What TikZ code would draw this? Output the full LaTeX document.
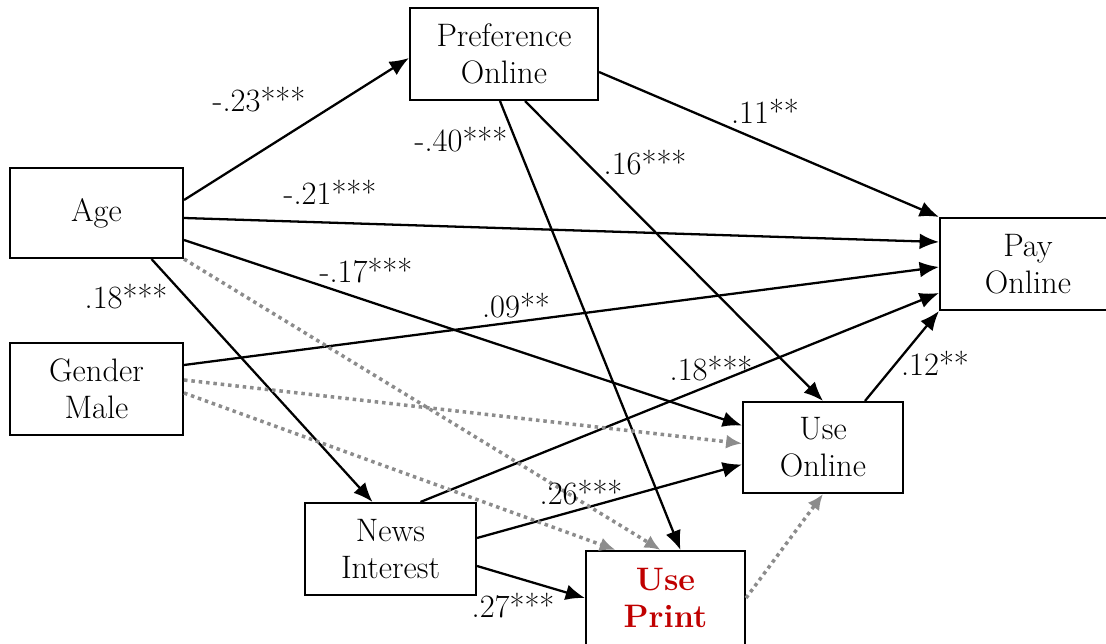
\documentclass[tikz,border=0pt]{standalone}
\usepackage{xcolor}
\usetikzlibrary{arrows.meta, calc}
\definecolor{printred}{HTML}{C00000}

\begin{document}
\begin{tikzpicture}[x=0.02cm, y=-0.02cm,
    font=\fontsize{18.5}{21}\selectfont,
    box/.style={draw, line width=1.2pt, align=center, inner sep=0pt},
    path/.style={line width=1.3pt, -{Latex[length=11pt,width=9pt]}},
    nonsig/.style={line width=2pt, black!45, dash pattern=on 2pt off 2.2pt,
                   -{Latex[length=9pt,width=8pt]}},
    coef/.style={inner sep=0pt}]
\useasboundingbox (0,0) rectangle (1106,644);
% variables
\node[box, minimum width=3.76cm, minimum height=1.84cm] (pref) at (504,54) {Preference\\Online};
\node[box, minimum width=3.46cm, minimum height=1.80cm] (age) at (96.5,213) {Age};
\node[box, minimum width=3.52cm, minimum height=1.84cm] (pay) at (1028,264) {Pay\\Online};
\node[box, minimum width=3.46cm, minimum height=1.84cm] (gender) at (96.5,389) {Gender\\Male};
\node[box, minimum width=3.20cm, minimum height=1.82cm] (useon) at (823,447.5) {Use\\Online};
\node[box, minimum width=3.42cm, minimum height=1.84cm] (news) at (390.5,549) {News\\Interest};
\node[box, minimum width=3.18cm, minimum height=1.88cm, text=printred, font=\fontsize{18.5}{21}\selectfont\bfseries]
    (print) at (665.5,598) {Use\\Print};
% significant paths
\draw[path] ($(age.east)+(0,-13)$) -- ($(pref.west)+(0,4)$);
\draw[path] ($(age.east)+(0,5)$) -- ($(pay.west)+(0,-22)$);
\draw[path] ($(age.east)+(0,27)$) -- ($(useon.west)+(0,-22)$);
\draw[path] ($(age.south)+(55,0)$) -- ($(news.north)+(-18,0)$);
\draw[path] ($(pref.east)+(0,18)$) -- (pay.north west);
\draw[path] ($(pref.south)+(-4,0)$) -- ($(print.north)+(15,0)$);
\draw[path] ($(pref.south)+(21,0)$) -- (useon.north);
\draw[path] ($(gender.east)+(0,-24)$) -- ($(pay.west)+(0,3)$);
\draw[path] ($(news.north)+(30,0)$) -- ($(pay.west)+(0,29)$);
\draw[path] ($(news.east)+(0,-11)$) -- ($(useon.west)+(0,17)$);
\draw[path] ($(news.east)+(0,17)$) -- (print.west);
\draw[path] ($(useon.north)+(42,0)$) -- (pay.south west);
% non-significant paths
\draw[nonsig] (age.south east) -- ($(print.north)+(-5,0)$);
\draw[nonsig] ($(gender.east)+(0,-9)$) -- ($(useon.west)+(0,-4)$);
\draw[nonsig] ($(gender.east)+(0,4)$) -- ($(print.north)+(-50,0)$);
\draw[nonsig] (print.east) -- (useon.south);
% coefficients
\node[coef] (c1) at (259,100) {-.23***};
\node[coef] (c2) at (330,192) {-.21***};
\node[coef] (c3) at (366,271) {-.17***};
\node[coef] (c4) at (126,297) {.18***};
\node[coef] (c5) at (765,111) {.11**};
\node[coef] (c6) at (461,140) {-.40***};
\node[coef] (c7) at (645,163) {.16***};
\node[coef] (c8) at (516,306) {.09**};
\node[coef] (c9) at (711,369) {.18***};
\node[coef] (c10) at (581,493) {.26***};
\node[coef] (c11) at (513,606) {.27***};
\node[coef] (c12) at (935,363) {.12**};
\end{tikzpicture}
\end{document}
